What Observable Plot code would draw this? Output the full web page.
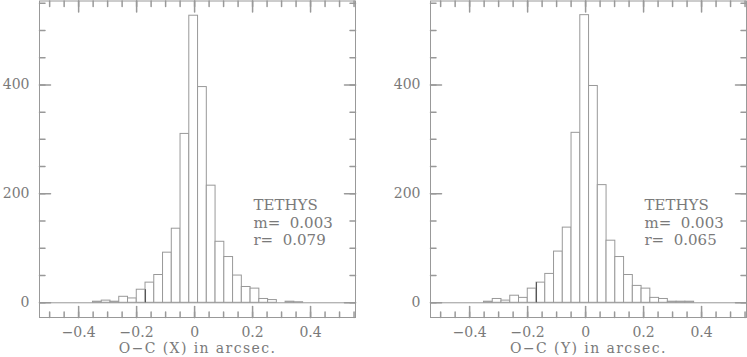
<!DOCTYPE html>
<html><head><meta charset="utf-8">
<script src="https://cdn.jsdelivr.net/npm/d3@7"></script>
<script src="https://cdn.jsdelivr.net/npm/@observablehq/plot@0.6"></script>
<style>
html,body{margin:0;padding:0;background:#fff;}
#wrap{position:relative;width:747px;height:357px;display:flex;}
svg{display:block;overflow:visible}
</style></head><body><div id="wrap"></div>
<script>
// Histogram bin edges (arcsec), shared by both panels
const binEdges = [-0.3505, -0.3203, -0.2901, -0.2599, -0.2297, -0.1995, -0.1693, -0.1391, -0.1089, -0.0787, -0.0485, -0.0183, 0.0119, 0.0421, 0.0723, 0.1025, 0.1327, 0.1629, 0.1931, 0.2233, 0.2535, 0.2837, 0.3139, 0.3441, 0.3743];
// Counts per bin
const countsX = [2, 4, 2, 11, 8, 24, 37, 51, 92, 136, 310, 527, 396, 215, 112, 84, 50, 29, 26, 7, 5, 0, 2, 1];
const countsY = [2, 7, 4, 13, 9, 26, 37, 53, 94, 138, 312, 528, 398, 216, 114, 84, 51, 31, 26, 9, 7, 2, 2, 2];
// Axis ticks
const xMajorTicks = [-0.4, -0.2, 0, 0.2, 0.4];
const xMinorTicks = [-0.5, -0.45, -0.4, -0.35, -0.3, -0.25, -0.2, -0.15, -0.1, -0.05, 0, 0.05, 0.1, 0.15, 0.2, 0.25, 0.3, 0.35, 0.4, 0.45, 0.5, 0.55];
const yMajorTicks = [0, 200, 400];
const yMinorTicks = [0, 50, 100, 150, 200, 250, 300, 350, 400, 450, 500, 550];
// Panel texts
const axisTitles = ["O\u2212C (X) in arcsec.", "O\u2212C (Y) in arcsec."];
const satName = "TETHYS";
const meanValues = ["0.003", "0.003"];
const rmsValues = ["0.079", "0.065"];
const darkEdgeTop = [24, 37];

const lineColor = "#999";
const textColor = "#7a7a7a";
const font = "DejaVu Serif";
const lineShape = {draw(context, l) { context.moveTo(0, 0); context.lineTo(0, -l); }};

function panel(i, counts, width, marginRight) {
  const bins = counts.map((c, k) => ({x1: binEdges[k], x2: binEdges[k + 1], c}));
  const annot = [satName, "m=\u00a0 " + meanValues[i], "r=\u00a0 " + rmsValues[i]].join("\n");
  const svg = Plot.plot({
    width, height: 357,
    marginLeft: 39, marginRight, marginTop: 0.5, marginBottom: 40,
    x: {domain: [-0.535, 0.555]},
    y: {domain: [-27, 554]},
    style: {fontFamily: font, color: textColor, background: "transparent"},
    marks: [
      Plot.ruleY([0], {stroke: lineColor}),
      Plot.rectY(bins, {x1: "x1", x2: "x2", y1: 0, y2: "c", fill: "white", stroke: lineColor}),
      Plot.ruleX([binEdges[6]], {y1: 0, y2: darkEdgeTop[i], stroke: "#555"}),
      Plot.frame({stroke: lineColor}),
      Plot.vector(xMinorTicks, {x: d => d, frameAnchor: "bottom", anchor: "start", length: 5.5, rotate: 0, shape: lineShape, stroke: lineColor}),
      Plot.vector(xMajorTicks, {x: d => d, frameAnchor: "bottom", anchor: "start", length: 11, rotate: 0, shape: lineShape, stroke: lineColor}),
      Plot.vector(xMinorTicks, {x: d => d, frameAnchor: "top", anchor: "start", length: 5.5, rotate: 180, shape: lineShape, stroke: lineColor}),
      Plot.vector(xMajorTicks, {x: d => d, frameAnchor: "top", anchor: "start", length: 11, rotate: 180, shape: lineShape, stroke: lineColor}),
      Plot.vector(yMinorTicks, {y: d => d, frameAnchor: "left", anchor: "start", length: 5.5, rotate: 90, shape: lineShape, stroke: lineColor}),
      Plot.vector(yMajorTicks, {y: d => d, frameAnchor: "left", anchor: "start", length: 11, rotate: 90, shape: lineShape, stroke: lineColor}),
      Plot.vector(yMinorTicks, {y: d => d, frameAnchor: "right", anchor: "start", length: 5.5, rotate: -90, shape: lineShape, stroke: lineColor}),
      Plot.vector(yMajorTicks, {y: d => d, frameAnchor: "right", anchor: "start", length: 11, rotate: -90, shape: lineShape, stroke: lineColor}),
      Plot.axisX({ticks: xMajorTicks, tickSize: 0, tickPadding: 10, tickFormat: d3.format("~g"), fontSize: 14, label: null, fill: textColor}),
      Plot.axisY({ticks: yMajorTicks, tickSize: 0, tickPadding: 10, tickFormat: d3.format("~g"), fontSize: 14, label: null, fill: textColor}),
      Plot.text([axisTitles[i]], {text: d => d, frameAnchor: "bottom", dy: 31, lineAnchor: "middle", fontSize: 14, fill: textColor}),
      Plot.text([annot], {text: d => d, x: 0.203, y: 193, textAnchor: "start", lineAnchor: "top", lineHeight: 1.17, fontSize: 15, fill: textColor})
    ]
  });
  svg.querySelectorAll("text").forEach(t => {
    if (t.textContent === axisTitles[i]) t.setAttribute("letter-spacing", "1.4");
  });
  return svg;
}

const wrap = document.getElementById("wrap");
wrap.appendChild(panel(0, countsX, 391, 36));
wrap.appendChild(panel(1, countsY, 356, 1));
</script></body></html>
